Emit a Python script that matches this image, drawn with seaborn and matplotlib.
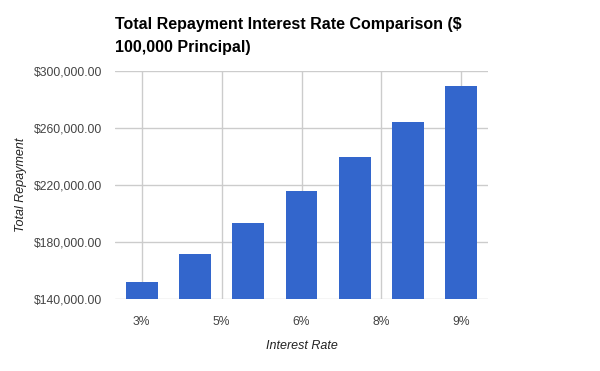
import numpy as np
import pandas as pd
import matplotlib.pyplot as plt
import seaborn as sns

# Data
rates = [3, 4, 5, 6, 7, 8, 9]
totals = [151777, 171870, 193256, 215838, 239509, 264155, 289664]
x_ticks = [3, 4.5, 6, 7.5, 9]
x_tick_labels = ['3%', '5%', '6%', '8%', '9%']
y_ticks = [140000, 180000, 220000, 260000, 300000]

data = pd.DataFrame({'Rate': rates, 'Total': totals})

sns.set_theme(style='white')
plt.rcParams['font.family'] = ['Liberation Sans', 'DejaVu Sans']

fig = plt.figure(figsize=(6, 3.71), dpi=100)
ax = fig.add_axes([0.1917, 0.194, 0.6216, 0.6146])

sns.barplot(x='Rate', y='Total', data=data, native_scale=True, width=0.6,
            color='#3366cc', saturation=1, linewidth=0, ax=ax, zorder=3)

ax.set_xlim(2.5, 9.5)
ax.set_ylim(140000, 300000)
ax.set_xticks(x_ticks)
ax.set_xticklabels(x_tick_labels)
ax.set_yticks(y_ticks)
ax.set_yticklabels([f'${v:,.2f}' for v in y_ticks])
ax.tick_params(axis='both', length=0, labelsize=8.7, labelcolor='#444444')
ax.tick_params(axis='x', pad=12)
ax.tick_params(axis='y', pad=9)

ax.grid(True, color='#cccccc', linewidth=1, zorder=0)
ax.set_axisbelow(True)
for s in ax.spines.values():
    s.set_visible(False)

ax.set_xlabel('Interest Rate', fontsize=9, style='italic', color='#222222', labelpad=9)
ax.set_ylabel('Total Repayment', fontsize=9, style='italic', color='#222222', labelpad=5)

fig.text(0.1917, 0.902, 'Total Repayment Interest Rate Comparison ($\n100,000 Principal)',
         fontsize=11.5, fontweight='bold', color='#000000', ha='left', va='center',
         linespacing=1.65)

plt.savefig('out.png', dpi=100)
